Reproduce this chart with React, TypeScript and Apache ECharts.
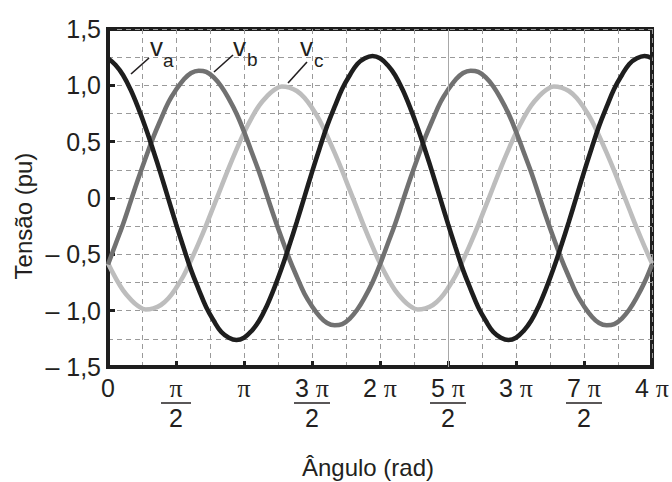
import { useEffect, useRef } from "react";
import * as echarts from "echarts";

// sample angles in degrees (the axis itself runs in multiples of π)
const angleDeg = [
  0, 10, 20, 30, 40, 50, 60, 70, 80, 90, 100, 110, 120, 130, 140, 150, 160, 170, 180, 190, 200, 210, 220, 230, 240,
  250, 260, 270, 280, 290, 300, 310, 320, 330, 340, 350, 360, 370, 380, 390, 400, 410, 420, 430, 440, 450, 460, 470,
  480, 490, 500, 510, 520, 530, 540, 550, 560, 570, 580, 590, 600, 610, 620, 630, 640, 650, 660, 670, 680, 690, 700,
  710, 720,
];
const va = [
  1.24, 1.18, 1.09, 0.96, 0.8, 0.62, 0.42, 0.21, -0.01, -0.23, -0.44, -0.64, -0.81, -0.97, -1.09, -1.19, -1.24,
  -1.26, -1.24, -1.18, -1.09, -0.96, -0.8, -0.62, -0.42, -0.21, 0.01, 0.23, 0.44, 0.64, 0.81, 0.97, 1.09, 1.19, 1.24,
  1.26, 1.24, 1.18, 1.09, 0.96, 0.8, 0.62, 0.42, 0.21, -0.01, -0.23, -0.44, -0.64, -0.81, -0.97, -1.09, -1.19, -1.24,
  -1.26, -1.24, -1.18, -1.09, -0.96, -0.8, -0.62, -0.42, -0.21, 0.01, 0.23, 0.44, 0.64, 0.81, 0.97, 1.09, 1.19, 1.24,
  1.26, 1.24,
];
const vb = [
  -0.59, -0.41, -0.23, -0.03, 0.17, 0.36, 0.54, 0.7, 0.85, 0.96, 1.05, 1.11, 1.13, 1.12, 1.07, 0.99, 0.88, 0.75,
  0.59, 0.41, 0.23, 0.03, -0.17, -0.36, -0.54, -0.7, -0.85, -0.96, -1.05, -1.11, -1.13, -1.12, -1.07, -0.99, -0.88,
  -0.75, -0.59, -0.41, -0.23, -0.03, 0.17, 0.36, 0.54, 0.7, 0.85, 0.96, 1.05, 1.11, 1.13, 1.12, 1.07, 0.99, 0.88,
  0.75, 0.59, 0.41, 0.23, 0.03, -0.17, -0.36, -0.54, -0.7, -0.85, -0.96, -1.05, -1.11, -1.13, -1.12, -1.07, -0.99,
  -0.88, -0.75, -0.59,
];
const vc = [
  -0.58, -0.71, -0.82, -0.9, -0.96, -0.99, -0.98, -0.95, -0.89, -0.8, -0.69, -0.55, -0.4, -0.24, -0.07, 0.1, 0.27,
  0.43, 0.58, 0.71, 0.82, 0.9, 0.96, 0.99, 0.98, 0.95, 0.89, 0.8, 0.69, 0.55, 0.4, 0.24, 0.07, -0.1, -0.27, -0.43,
  -0.58, -0.71, -0.82, -0.9, -0.96, -0.99, -0.98, -0.95, -0.89, -0.8, -0.69, -0.55, -0.4, -0.24, -0.07, 0.1, 0.27,
  0.43, 0.58, 0.71, 0.82, 0.9, 0.96, 0.99, 0.98, 0.95, 0.89, 0.8, 0.69, 0.55, 0.4, 0.24, 0.07, -0.1, -0.27, -0.43,
  -0.58,
];
const seriesNames = ["a", "b", "c"];

const xTickValues = [0, 0.5, 1, 1.5, 2, 2.5, 3, 3.5, 4];
const xTickDigits = ["0", "", "", "3 ", "2 ", "5 ", "3 ", "7 ", "4 "];
const xTickHasPi = [false, true, true, true, true, true, true, true, true];
const xTickDen = ["", "2", "", "2", "", "2", "", "2", ""];
const yTickValues = [-1.5, -1, -0.5, 0, 0.5, 1, 1.5];
const yTickLabels = ["– 1,5", "– 1,0", "– 0,5", "0", "0,5", "1,0", "1,5"];
const referenceLineX = 2.5;

const xTitle = "Ângulo (rad)";
const yTitle = "Tensão (pu)";

const SANS = "'Liberation Sans', Arial, sans-serif";
const SERIF = "'Liberation Serif', 'Times New Roman', serif";
const INK = "#231f20";

export default function App() {
  const ref = useRef<HTMLDivElement>(null);
  useEffect(() => {
    if (!ref.current) return;
    const chart = echarts.init(ref.current, undefined, { renderer: "svg" });
    const toPts = (vals: number[]) => vals.map((v, i) => [angleDeg[i] / 180, v]);
    const colors = ["#1e1e1e", "#717171", "#bdbdbd"];
    const all = [va, vb, vc];

    const xFormatter = (val: number) => {
      const i = xTickValues.findIndex((t) => Math.abs(t - val) < 1e-6);
      if (i < 0) return "";
      let num = "";
      if (xTickDigits[i]) num += `{n|${xTickDigits[i]}}`;
      if (xTickHasPi[i]) num += `{p|π}`;
      if (xTickDen[i]) return `${num}\n{${xTickDigits[i] ? "barL" : "barS"}| }\n{n|${xTickDen[i]}}`;
      return num;
    };
    const yFormatter = (val: number) => {
      const i = yTickValues.findIndex((t) => Math.abs(t - val) < 1e-6);
      return i < 0 ? "" : yTickLabels[i];
    };

    const dashed = { color: "#9a9a9a", width: 1, type: [5, 4] as any };

    const series: any[] = [2, 1, 0].map((si) => ({
      type: "line",
      name: seriesNames[si],
      data: toPts(all[si]),
      smooth: 0.4,
      showSymbol: false,
      lineStyle: { color: colors[si], width: 4.6 },
      z: 3 + (2 - si),
    }));
    series.push({
      type: "line",
      data: [],
      markLine: {
        silent: true,
        symbol: "none",
        label: { show: false },
        lineStyle: { color: "#a8a8a8", width: 1, type: "solid" },
        data: [{ xAxis: referenceLineX }],
      },
      z: 1,
    });

    const labelDefs = [
      { v: [150, 47], s: [163, 60], line: [131, 74, 149, 58] },
      { v: [233, 47], s: [247, 59], line: [214, 72, 233, 55] },
      { v: [300, 47], s: [314, 60], line: [288, 83, 307, 62] },
    ];
    const graphic: any[] = [];
    labelDefs.forEach((d, i) => {
      graphic.push({
        type: "line",
        shape: { x1: d.line[0], y1: d.line[1], x2: d.line[2], y2: d.line[3] },
        style: { stroke: INK, lineWidth: 1.6 },
        z: 10,
      });
      graphic.push({
        type: "text",
        x: d.v[0],
        y: d.v[1],
        style: { text: "v", fontFamily: SANS, fontSize: 26, fill: INK, align: "left", verticalAlign: "middle" },
        z: 10,
      });
      graphic.push({
        type: "text",
        x: d.s[0],
        y: d.s[1],
        style: { text: seriesNames[i], fontFamily: SANS, fontSize: 19, fill: INK, align: "left", verticalAlign: "middle" },
        z: 10,
      });
    });
    graphic.push({
      type: "text",
      x: 368,
      y: 467,
      style: { text: xTitle, fontFamily: SANS, fontSize: 24, fill: INK, align: "center", verticalAlign: "middle" },
    });
    graphic.push({
      type: "text",
      x: 23,
      y: 216,
      rotation: Math.PI / 2,
      style: { text: yTitle, fontFamily: SANS, fontSize: 24, fill: INK, align: "center", verticalAlign: "middle" },
    });

    chart.setOption({
      animation: false,
      grid: {
        left: 108,
        right: 19,
        top: 29,
        bottom: 115,
        show: true,
        borderColor: "#1e1e1e",
        borderWidth: 4,
        backgroundColor: "transparent",
      },
      xAxis: {
        type: "value",
        min: 0,
        max: 4,
        interval: 0.5,
        axisLine: { show: true, onZero: false, lineStyle: { color: "#1e1e1e", width: 4 } },
        axisTick: { show: true, inside: true, length: 6, lineStyle: { color: "#1e1e1e", width: 3 } },
        minorTick: { show: false, splitNumber: 2 },
        splitLine: { show: true, lineStyle: dashed },
        minorSplitLine: { show: true, lineStyle: dashed },
        axisLabel: {
          showMinLabel: true,
          showMaxLabel: true,
          margin: 8,
          formatter: xFormatter,
          color: INK,
          rich: {
            n: { fontFamily: SANS, fontSize: 25, lineHeight: 26, color: INK },
            p: { fontFamily: SERIF, fontSize: 26, lineHeight: 26, color: INK },
            barS: { width: 30, height: 1.5, lineHeight: 4, backgroundColor: INK, fontSize: 2 },
            barL: { width: 36, height: 1.5, lineHeight: 4, backgroundColor: INK, fontSize: 2 },
          },
        },
      },
      yAxis: {
        type: "value",
        min: -1.5,
        max: 1.5,
        interval: 0.5,
        axisLine: { show: true, onZero: false, lineStyle: { color: "#1e1e1e", width: 4 } },
        axisTick: { show: true, inside: true, length: 7, lineStyle: { color: "#1e1e1e", width: 3 } },
        minorTick: { show: false, splitNumber: 2 },
        splitLine: { show: true, lineStyle: dashed },
        minorSplitLine: { show: true, lineStyle: dashed },
        axisLabel: {
          margin: 7,
          formatter: yFormatter,
          fontFamily: SANS,
          fontSize: 25,
          color: INK,
        },
      },
      series,
      graphic,
    });
    return () => chart.dispose();
  }, []);
  return <div ref={ref} style={{ width: 672, height: 482, position: "absolute", left: 0, top: 0 }} />;
}
